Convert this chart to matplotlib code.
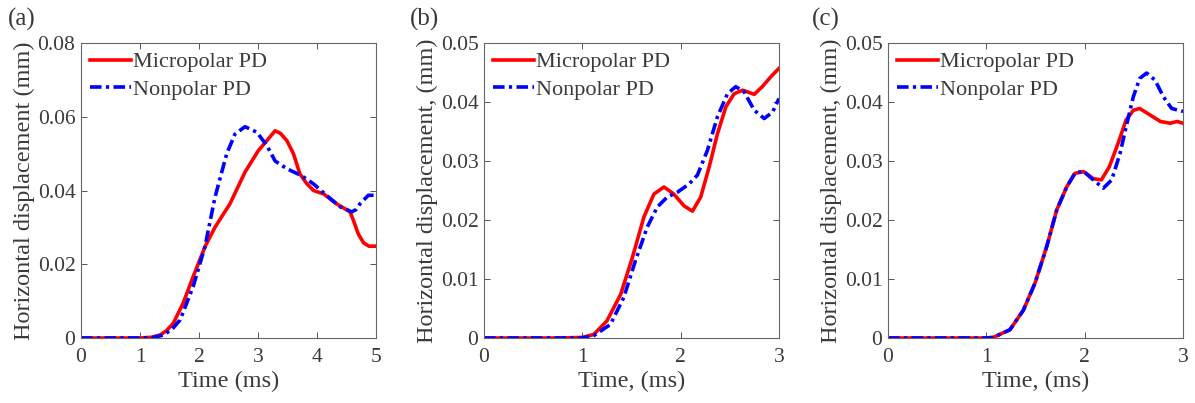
import matplotlib
matplotlib.use("Agg")
import matplotlib.pyplot as plt

# === DATA ===
# (a) 0-5 ms
t_a_micro = [0, 0.5, 1.0, 1.2, 1.34, 1.45, 1.565, 1.73, 1.90, 2.10, 2.27, 2.525, 2.78, 3.005,
             3.175, 3.29, 3.38, 3.49, 3.6, 3.71, 3.82, 3.94, 4.11, 4.33, 4.5, 4.56, 4.62,
             4.7, 4.79, 4.88, 5.0]
u_a_micro = [0, 0, 0, 0.0002, 0.0008, 0.002, 0.004, 0.0094, 0.0166, 0.0247, 0.030, 0.0364,
             0.045, 0.0508, 0.054, 0.0562, 0.0555, 0.0535, 0.050, 0.0445, 0.042, 0.040,
             0.0391, 0.0364, 0.0348, 0.0342, 0.0318, 0.0282, 0.0258, 0.0249, 0.0249]
t_a_non = [0, 0.5, 1.0, 1.2, 1.40, 1.55, 1.68, 1.90, 2.10, 2.27, 2.47, 2.61, 2.78, 2.98,
           3.15, 3.29, 3.49, 3.74, 3.94, 4.16, 4.39, 4.59, 4.66, 4.73, 4.87, 5.0]
u_a_non = [0, 0, 0, 0.0001, 0.0008, 0.0025, 0.0049, 0.0139, 0.0247, 0.0381, 0.050, 0.0553,
           0.0573, 0.0558, 0.0522, 0.048, 0.0459, 0.044, 0.0418, 0.0387, 0.0356, 0.0342,
           0.0348, 0.0364, 0.0387, 0.0387]

# (b) 0-3 ms
t_b_micro = [0, 0.5, 0.78, 1.0, 1.116, 1.25, 1.39, 1.51, 1.626, 1.728, 1.83, 1.93, 2.034,
             2.12, 2.204, 2.29, 2.374, 2.46, 2.544, 2.63, 2.748, 2.83, 2.918, 3.0]
u_b_micro = [0, 0, 0, 0.0001, 0.0006, 0.0029, 0.0074, 0.0137, 0.0205, 0.0244, 0.0256,
             0.0244, 0.0224, 0.0215, 0.0239, 0.029, 0.0346, 0.0392, 0.0414, 0.042,
             0.0413, 0.0426, 0.0443, 0.0457]
t_b_non = [0, 0.5, 1.0, 1.116, 1.286, 1.422, 1.54, 1.66, 1.762, 1.864, 1.966, 2.085, 2.17,
           2.272, 2.374, 2.476, 2.56, 2.646, 2.748, 2.85, 2.935, 3.0]
u_b_non = [0, 0, 0, 0.0004, 0.0023, 0.0069, 0.0131, 0.0188, 0.0222, 0.0239, 0.0247,
           0.0261, 0.0276, 0.0318, 0.0375, 0.0414, 0.0426, 0.0417, 0.0386, 0.0372,
           0.0383, 0.0406]

# (c) 0-3 ms
t_c_micro = [0, 0.5, 1.0, 1.07, 1.24, 1.376, 1.495, 1.614, 1.716, 1.817, 1.9, 1.987,
             2.088, 2.17, 2.25, 2.34, 2.42, 2.495, 2.56, 2.665, 2.77, 2.87, 2.94, 3.0]
u_c_micro = [0, 0, 0, 0.0001, 0.0014, 0.0047, 0.0093, 0.0155, 0.0217, 0.0256, 0.0279,
             0.0282, 0.027, 0.0268, 0.029, 0.033, 0.0369, 0.0386, 0.0389, 0.0378, 0.0367,
             0.0364, 0.0367, 0.0364]
t_c_non = [0, 0.5, 1.0, 1.07, 1.24, 1.376, 1.495, 1.614, 1.716, 1.817, 1.9, 1.987, 2.088,
           2.19, 2.275, 2.36, 2.43, 2.495, 2.56, 2.63, 2.716, 2.8, 2.885, 3.0]
u_c_non = [0, 0, 0, 0.0001, 0.0014, 0.0047, 0.0093, 0.0155, 0.0217, 0.0256, 0.0279,
           0.0283, 0.0268, 0.0254, 0.0268, 0.0313, 0.0364, 0.0409, 0.044, 0.0449, 0.0437,
           0.0409, 0.0389, 0.0384]

panel_tags = ["(a)", "(b)", "(c)"]
x_labels = ["Time (ms)", "Time, (ms)", "Time, (ms)"]
y_labels = ["Horizontal displacement (mm)", "Horizontal displacement, (mm)",
            "Horizontal displacement, (mm)"]
x_ticks = [[0, 1, 2, 3, 4, 5], [0, 1, 2, 3], [0, 1, 2, 3]]
y_ticks = [[0, 0.02, 0.04, 0.06, 0.08], [0, 0.01, 0.02, 0.03, 0.04, 0.05],
           [0, 0.01, 0.02, 0.03, 0.04, 0.05]]
y_tick_labels = [["0", "0.02", "0.04", "0.06", "0.08"],
                 ["0", "0.01", "0.02", "0.03", "0.04", "0.05"],
                 ["0", "0.01", "0.02", "0.03", "0.04", "0.05"]]
series = [
    (t_a_micro, u_a_micro, t_a_non, u_a_non),
    (t_b_micro, u_b_micro, t_b_non, u_b_non),
    (t_c_micro, u_c_micro, t_c_non, u_c_non),
]

# === STYLE ===
TXT = "#3a3a3a"
plt.rcParams["font.family"] = ["Liberation Serif", "DejaVu Serif"]
plt.rcParams["text.color"] = TXT
plt.rcParams["axes.labelcolor"] = TXT
plt.rcParams["xtick.color"] = "#555555"
plt.rcParams["ytick.color"] = "#555555"
plt.rcParams["xtick.labelcolor"] = TXT
plt.rcParams["ytick.labelcolor"] = TXT

fig = plt.figure(figsize=(11.95, 4.03), dpi=100)

axes_left = [81, 484, 888]
tag_left = [8, 410, 812]
W, H = 1195, 403

for i in range(3):
    ax = fig.add_axes([axes_left[i] / W, (H - 338) / H, 295 / W, 295 / H])
    tm, um, tn, un = series[i]
    ax.plot(tm, um, color="#ff0000", lw=2.6, label="Micropolar PD")
    ax.plot(tn, un, color="#0000ff", lw=2.6, dashes=(3.2, 1.2, 0.9, 1.2),
            label="Nonpolar PD")
    ax.set_xlim(x_ticks[i][0], x_ticks[i][-1])
    ax.set_ylim(y_ticks[i][0], y_ticks[i][-1])
    ax.set_xticks(x_ticks[i])
    ax.set_yticks(y_ticks[i])
    ax.set_yticklabels(y_tick_labels[i])
    ax.tick_params(direction="in", top=True, right=True, length=4, width=0.7,
                   labelsize=15.5)
    ax.tick_params(axis="x", pad=7)
    ax.tick_params(axis="y", pad=4)
    for sp in ax.spines.values():
        sp.set_color("#666666")
        sp.set_linewidth(0.8)
    ax.set_xlabel(x_labels[i], fontsize=17.5, labelpad=3)
    ax.set_ylabel(y_labels[i], fontsize=17.5, labelpad=2)
    ax.legend(loc="upper left", frameon=False, fontsize=16, handlelength=1.85,
              handletextpad=0.1, borderaxespad=0.2, labelspacing=0.3,
              borderpad=0.2)
    fig.text(tag_left[i] / W, 1 - 19 / H, panel_tags[i], fontsize=18, va="center",
             ha="left")

fig.savefig("out.png", dpi=100)
